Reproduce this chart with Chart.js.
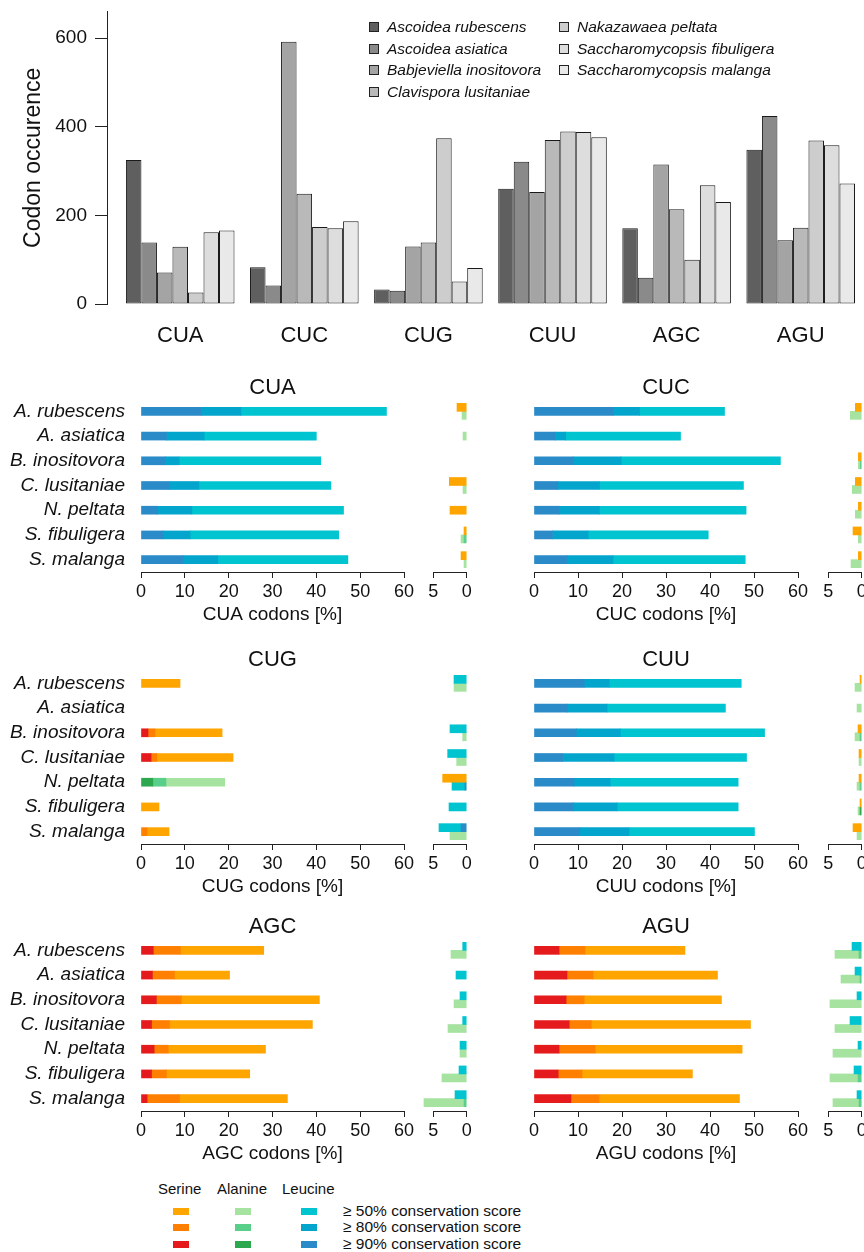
<!DOCTYPE html>
<html>
<head>
<meta charset="utf-8">
<script src="https://cdn.jsdelivr.net/npm/chart.js@4.4.1/dist/chart.umd.min.js"></script>
<style>
  body { margin: 0; background: #fff; font-family: 'Liberation Sans', Arial, sans-serif; color: #111; }
  #page { position: relative; width: 864px; height: 1252px; overflow: hidden; }
  canvas { position: absolute; }
  .lg { position: absolute; white-space: nowrap; line-height: 18px; }
</style>
</head>
<body>
<div id="page"></div>
<script>
// --- data -------------------------------------------------------------
const codons = ['CUA', 'CUC', 'CUG', 'CUU', 'AGC', 'AGU'];
const speciesFull = ['Ascoidea rubescens', 'Ascoidea asiatica', 'Babjeviella inositovora', 'Clavispora lusitaniae',
                     'Nakazawaea peltata', 'Saccharomycopsis fibuligera', 'Saccharomycopsis malanga'];
const speciesShort = ['A. rubescens', 'A. asiatica', 'B. inositovora', 'C. lusitaniae', 'N. peltata', 'S. fibuligera', 'S. malanga'];
const occurrenceTicks = [0, 200, 400, 600];

// codon occurrence per species, in codon order
const occRubescens  = [325,  83,  33, 260, 171, 348];
const occAsiatica   = [139,  42,  30, 321,  59, 424];
const occInositovora = [71, 592, 130, 253, 315, 144];
const occLusitaniae = [129, 249, 139, 370, 214, 172];
const occPeltata    = [ 26, 174, 374, 389, 100, 369];
const occFibuligera = [162, 171,  51, 388, 268, 358];
const occMalanga    = [166, 187,  81, 376, 230, 272];

// percentage of codons per species: [>=90%, >=80%, >=50%] conservation score (cumulative)
const cuaLeu = [[13.8,22.8,56.0],[5.8,14.4,40.0],[5.6,8.7,41.0],[6.4,13.2,43.3],[3.8,11.6,46.2],[5.0,11.2,45.1],[9.7,17.5,47.2]];
const cuaSer = [[0,0,1.45],[0,0,0],[0,0,0],[0,0,2.6],[0,0,2.5],[0,0,0.4],[0,0,0.85]];
const cuaAla = [[0,0,0.7],[0,0,0.55],[0,0,0],[0,0,0.55],[0,0,0],[0,0.4,0.85],[0,0,0.4]];

const cucLeu = [[18.0,24.0,43.3],[4.9,7.2,33.3],[8.9,19.8,56.0],[5.4,14.9,47.6],[5.7,14.9,48.2],[4.2,12.3,39.6],[7.6,18.0,48.0]];
const cucSer = [[0,0,0.95],[0,0,0],[0,0,0.5],[0,0,0.95],[0,0,0.5],[0,0,1.3],[0,0,0.5]];
const cucAla = [[0,0,1.7],[0,0,0],[0,0.2,0.5],[0,0,1.4],[0,0,0.95],[0,0,0.5],[0,0,1.6]];

const cugSer = [[0,0,8.9],[0,0,0],[1.6,3.2,18.5],[2.3,3.6,21.0],[0,0,3.6],[0,0,4.1],[0,1.4,6.4]];
const cugAla = [[0,0,1.9],[0,0,0],[0,0,0.6],[0,0,1.5],[2.7,5.7,19.1],[0,0,0],[0,0,2.5]];
const cugLeu = [[0,0,1.9],[0,0,0],[0,0,2.5],[0,0,2.85],[0.25,0.25,2.2],[0,0,2.65],[0.85,0.85,4.15]];
const cugMain = ['Ser','Ser','Ser','Ser','Ala','Ser','Ser'];

const cuuLeu = [[11.4,17.1,47.1],[7.5,16.6,43.5],[9.6,19.6,52.4],[6.5,18.2,48.3],[9.1,17.3,46.4],[8.9,18.9,46.4],[10.4,21.6,50.1]];
const cuuSer = [[0,0,0.25],[0,0,0],[0,0,0.55],[0,0,0.4],[0,0,0.4],[0,0,0.25],[0,0,1.3]];
const cuuAla = [[0,0,1.0],[0,0,0.7],[0,0.25,1.0],[0,0,0.4],[0,0.25,0.7],[0.25,0.25,0.55],[0,0,0.7]];

const agcSer = [[2.8,9.0,28.0],[2.6,7.6,20.2],[3.5,9.2,40.7],[2.4,6.5,39.1],[3.0,6.2,28.4],[2.4,5.8,24.8],[1.4,8.8,33.4]];
const agcLeu = [[0,0,0.6],[0,0,1.6],[0,0,1.0],[0,0,0.6],[0,0,1.0],[0,0,1.15],[0,0,1.75]];
const agcAla = [[0,0,2.35],[0,0,0],[0,0,1.9],[0,0,2.8],[0,0,1.0],[0,0,3.7],[0,0.4,6.4]];

const aguSer = [[5.7,11.6,34.3],[7.5,13.4,41.7],[7.3,11.4,42.6],[8.0,13.0,49.2],[5.7,13.9,47.3],[5.5,10.9,36.0],[8.4,14.8,46.7]];
const aguLeu = [[0,0,1.45],[0,0,1.0],[0,0,0.7],[0,0,1.75],[0,0,0.55],[0,0,1.15],[0,0,0.7]];
const aguAla = [[0,0.4,4.0],[0,0.25,3.1],[0,0,4.75],[0,0,4.0],[0,0,4.3],[0,0.55,4.75],[0,0.4,4.3]];

const aminoAcids = ['Serine', 'Alanine', 'Leucine'];
const conservationLabels = ['≥ 50% conservation score', '≥ 80% conservation score', '≥ 90% conservation score'];

// --- styles -----------------------------------------------------------
const greys = ['#5f5f5f', '#8a8a8a', '#a4a4a4', '#b9b9b9', '#cdcdcd', '#dddddd', '#e9e9e9'];
// colours for [>=90, >=80, >=50]
const aaColours = {
  Ser: ['#e41a1c', '#ff7f00', '#ffa500'],
  Ala: ['#2ea84f', '#5acf8a', '#a6e3a0'],
  Leu: ['#2a8bc8', '#04a5cd', '#00c4cf']
};
const aaOrder = ['Ser', 'Leu', 'Ala'];

const FONT = "'Liberation Sans', Arial, sans-serif";
Chart.defaults.font.family = FONT;
Chart.defaults.color = '#111';
Chart.defaults.animation = false;

const page = document.getElementById('page');

function addCanvas(x, y, w, h) {
  const c = document.createElement('canvas');
  c.width = w; c.height = h;
  c.style.left = x + 'px'; c.style.top = y + 'px';
  page.appendChild(c);
  return c;
}

function addText(text, x, y, css) {
  const d = document.createElement('div');
  d.className = 'lg';
  d.textContent = text;
  d.style.left = x + 'px';
  d.style.top = (y - 9) + 'px';
  Object.assign(d.style, css || {});
  page.appendChild(d);
  return d;
}

function addBox(x, y, w, h, colour, border) {
  const d = document.createElement('div');
  d.style.position = 'absolute';
  d.style.left = x + 'px'; d.style.top = y + 'px';
  d.style.width = w + 'px'; d.style.height = h + 'px';
  d.style.background = colour;
  d.style.boxSizing = 'border-box';
  if (border) d.style.border = border;
  page.appendChild(d);
}

// fixed axis sizes, no automatic label padding
const fixSize = (w, h) => s => {
  if (w !== null) s.width = w;
  if (h !== null) s.height = h;
  s.paddingTop = 0; s.paddingBottom = 0;
};

// --- top chart: codon occurrence --------------------------------------
const occ = [occRubescens, occAsiatica, occInositovora, occLusitaniae, occPeltata, occFibuligera, occMalanga];

new Chart(addCanvas(0, 0, 864, 364), {
  type: 'bar',
  data: {
    datasets: speciesFull.map((name, i) => ({
      label: name,
      data: occ[i].map((v, j) => ({ x: j, y: v })),
      backgroundColor: greys[i],
      borderColor: '#1a1a1a',
      borderWidth: 1,
      borderSkipped: false,
      categoryPercentage: 0.875,
      barPercentage: 1
    }))
  },
  options: {
    responsive: false,
    layout: { padding: { top: 11.5, right: 0, left: 0, bottom: 0 } },
    plugins: { legend: { display: false }, tooltip: { enabled: false } },
    scales: {
      x: {
        type: 'linear', min: -0.59, max: 5.51, offset: false,
        grid: { display: false, drawTicks: false },
        border: { display: false },
        afterBuildTicks: s => { s.ticks = codons.map((c, j) => ({ value: j })); },
        ticks: { callback: v => codons[v], font: { size: 22 }, padding: 19, autoSkip: false, maxRotation: 0 },
        afterFit: s => { s.height = 60; s.paddingLeft = 0; s.paddingRight = 0; }
      },
      y: {
        min: 0, max: 660,
        afterBuildTicks: s => { s.ticks = occurrenceTicks.map(v => ({ value: v })); },
        border: { display: true, color: '#222', width: 1 },
        grid: { drawOnChartArea: false, tickLength: 12, color: '#222' },
        ticks: { font: { size: 19 }, padding: 8 },
        title: { display: true, text: 'Codon occurence', font: { size: 23 }, padding: { top: 20, bottom: 0 } },
        afterFit: fixSize(107, null)
      }
    }
  }
});

speciesFull.forEach((name, i) => {
  const col = i < 4 ? 0 : 1;
  const row = i < 4 ? i : i - 4;
  const bx = col ? 559 : 369;
  const cy = 27 + row * 21.7;
  addBox(bx, cy - 5, 10, 10, greys[i], '1px solid #222');
  addText(name, bx + 18, cy, { fontStyle: 'italic', fontSize: '15.5px' });
});

// --- conservation panels ----------------------------------------------
const panelTitle = {
  id: 'panelTitle',
  afterDraw(chart, args, opts) {
    const { ctx, chartArea } = chart;
    ctx.save();
    ctx.font = '22px ' + FONT;
    ctx.fillStyle = '#111';
    ctx.textAlign = 'center';
    ctx.textBaseline = 'middle';
    ctx.fillText(opts.text, (chartArea.left + chartArea.right) / 2, chartArea.top - 11);
    ctx.restore();
  }
};

function seg(row, k) {
  const w = row[k] - (k ? row[k - 1] : 0);
  return w > 0.001 ? w : null;
}

const AREA_H = 173, PAD_TOP = 28, AXIS_H = 58;

function xAxisCommon() {
  return {
    stacked: true, min: 0,
    border: { display: true, color: '#222', width: 1 },
    grid: { display: true, drawOnChartArea: false, drawTicks: true, tickLength: 6, color: '#222' },
    afterFit: fixSize(null, AXIS_H)
  };
}

function drawPanel(codon, col, top, values, mainAA) {
  const h = PAD_TOP + AREA_H + AXIS_H;

  // main bars
  const mainSets = [0, 1, 2].map(k => ({
    data: mainAA.map((aa, i) => seg(values[aa][i], k)),
    backgroundColor: mainAA.map(aa => aaColours[aa][k]),
    stack: 'main', barThickness: 8
  }));
  new Chart(addCanvas(col ? 480 : 0, top, col ? 334 : 420, h), {
    type: 'bar',
    data: { labels: speciesShort, datasets: mainSets },
    options: {
      indexAxis: 'y', responsive: false,
      layout: { padding: { top: PAD_TOP, right: 16, left: 0, bottom: 0 } },
      plugins: { legend: { display: false }, tooltip: { enabled: false }, panelTitle: { text: codon } },
      scales: {
        x: Object.assign(xAxisCommon(), {
          max: 60,
          ticks: { stepSize: 10, font: { size: 18 }, padding: 3 },
          title: { display: true, text: codon + ' codons [%]', font: { size: 19 }, padding: { top: 0, bottom: 4 } }
        }),
        y: {
          grid: { display: false, drawTicks: false }, border: { display: false },
          ticks: { display: !col, autoSkip: false, font: { size: 19, style: 'italic' }, padding: 16 },
          afterFit: fixSize(col ? 54 : 141, null)
        }
      }
    },
    plugins: [panelTitle]
  });

  // other amino acids, small reversed axis
  const others = mainAA.map(aa => aaOrder.filter(a => a !== aa));
  const sideSets = [];
  ['top', 'bottom'].forEach((stack, p) => {
    [0, 1, 2].forEach(k => {
      sideSets.push({
        data: others.map((o, i) => seg(values[o[p]][i], k)),
        backgroundColor: others.map(o => aaColours[o[p]][k]),
        stack: stack, barThickness: 8, skipNull: true, clip: false
      });
    });
  });
  new Chart(addCanvas(col ? 815 : 420, top, 60, h), {
    type: 'bar',
    data: { labels: speciesShort, datasets: sideSets },
    options: {
      indexAxis: 'y', responsive: false,
      layout: { padding: { top: PAD_TOP, right: 13.3, left: 13.3, bottom: 0 } },
      plugins: { legend: { display: false }, tooltip: { enabled: false } },
      scales: {
        x: Object.assign(xAxisCommon(), {
          max: 5, reverse: true,
          ticks: { stepSize: 5, font: { size: 18 }, padding: 3 }
        }),
        y: { display: false }
      }
    }
  });
}

const all = aa => speciesShort.map(() => aa);
drawPanel('CUA', 0, 371, { Leu: cuaLeu, Ser: cuaSer, Ala: cuaAla }, all('Leu'));
drawPanel('CUC', 1, 371, { Leu: cucLeu, Ser: cucSer, Ala: cucAla }, all('Leu'));
drawPanel('CUG', 0, 643, { Leu: cugLeu, Ser: cugSer, Ala: cugAla }, cugMain);
drawPanel('CUU', 1, 643, { Leu: cuuLeu, Ser: cuuSer, Ala: cuuAla }, all('Leu'));
drawPanel('AGC', 0, 910, { Leu: agcLeu, Ser: agcSer, Ala: agcAla }, all('Ser'));
drawPanel('AGU', 1, 910, { Leu: aguLeu, Ser: aguSer, Ala: aguAla }, all('Ser'));

// --- bottom legend ----------------------------------------------------
const legendAA = ['Ser', 'Ala', 'Leu'];
const headX = [158, 217, 282];
const swatchX = [173, 235, 301];
aminoAcids.forEach((name, a) => {
  addText(name, headX[a], 1189, { fontSize: '15px' });
  [2, 1, 0].forEach((k, r) => {
    addBox(swatchX[a], 1208 + r * 16.3, 15.6, 7, aaColours[legendAA[a]][k]);
  });
});
conservationLabels.forEach((t, r) => addText(t, 343, 1211 + r * 16.3, { fontSize: '15.5px' }));
</script>
</body>
</html>
